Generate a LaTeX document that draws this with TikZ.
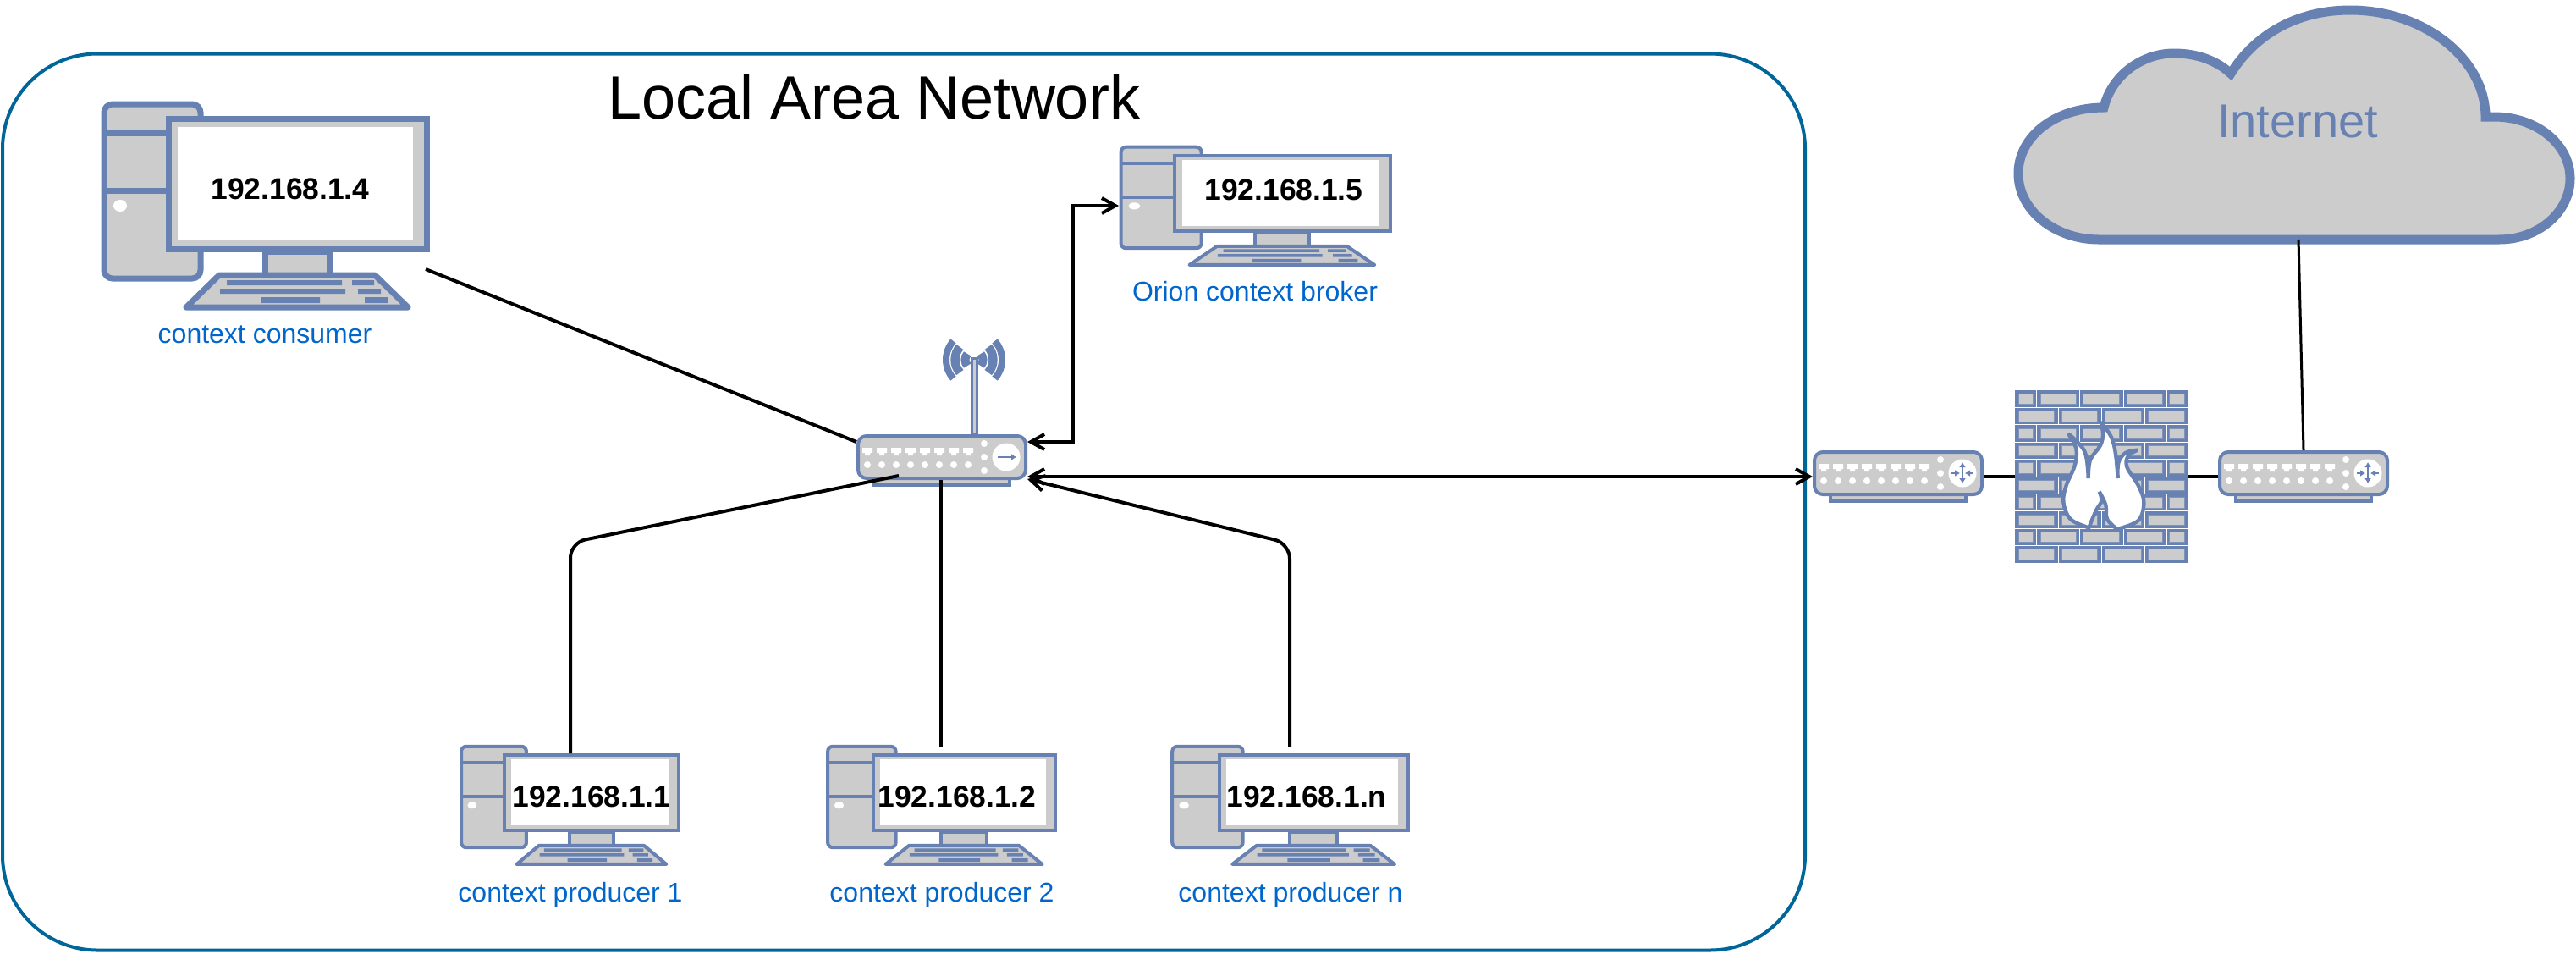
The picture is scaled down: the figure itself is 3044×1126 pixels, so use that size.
\documentclass[tikz,border=0pt]{standalone}
\usepackage{fontspec}
\setmainfont{Liberation Sans}
\usetikzlibrary{arrows.meta, positioning}
\definecolor{netblue}{HTML}{6881B3}
\definecolor{devgray}{HTML}{CCCCCC}
\definecolor{lanblue}{HTML}{006699}
\definecolor{labelblue}{HTML}{0066CC}

\tikzset{
    devshape/.style={draw=netblue, fill=devgray},
    pcbig/.style={line width=3.5pt, rounded corners=5pt},
    pcsmall/.style={yscale=.58, line width=2pt, rounded corners=3pt},
    routerbody/.style={devshape, rectangle, rounded corners=5pt, line width=2pt, minimum width=99pt, minimum height=25pt, anchor=north west, outer sep=1pt},
    symline/.style={draw=netblue, line width=1pt, -{Latex[length=3pt,width=4pt]}},
    pcicon/.pic={
        % tower
        \draw[devshape] (3,3) rectangle (117,209);
        \draw[draw=netblue, sharp corners] (3,37) -- (80,37) (3,105) -- (80,105);
        \fill[white] (22,123) ellipse (8 and 7);
        % monitor
        \draw[devshape, sharp corners] (79,20) rectangle (384,174);
        \fill[white, sharp corners] (90,30) rectangle (368,164);
        % stand and keyboard
        \draw[devshape, sharp corners] (193,177) rectangle (269,205);
        \draw[devshape, sharp corners, line join=round] (100,243) -- (139,205) -- (323,205) -- (362,243) -- cycle;
        \fill[netblue, sharp corners] (148,211) rectangle (284,217) (296,211) rectangle (322,217)
            (140,221) rectangle (288,227) (303,221) rectangle (330,227)
            (189,231) rectangle (258,238) (311,231) rectangle (338,238);
    },
    routericon/.pic={
        \draw[devshape, line width=2pt] (21,48) rectangle (181,60);
        \node[routerbody] (-body) at (0,0) {};
        % ports
        \foreach \i [evaluate=\i as \px using 13+17*\i] in {0,...,7} {
            \fill[white] (\px-6,16) rectangle (\px+6,22) (\px-3,22) rectangle (\px+3,25);
            \fill[white] (\px,36) circle (4);
        }
        \foreach \py in {11,27,43} {
            \fill[white] (151,\py) circle (4);
        }
        \fill[white] (177,27) circle (16.5);
        \coordinate (-hub) at (177,27);
    },
    brickwall/.pic={
        \foreach \r in {0,2,...,8} {
            \foreach \a/\b in {4/21.3,30.3/72.7,80.7/123,132.7/174.7,182.7/200.3} {
                \filldraw[draw=netblue!75!devgray, line width=.25pt, fill=devgray] (\a,4+20.4*\r) rectangle (\b,16.4+20.4*\r);
            }
            \foreach \a in {25.7,76.7,128,179} {
                \draw[white, line width=.5pt] (\a,20.4*\r) -- (\a,20.4+20.4*\r);
            }
        }
        \foreach \r in {1,3,...,9} {
            \foreach \a/\b in {4/46.3,55.3/97.7,106.3/149,157.7/200.3} {
                \filldraw[draw=netblue!75!devgray, line width=.25pt, fill=devgray] (\a,4+20.4*\r) rectangle (\b,16.4+20.4*\r);
            }
            \foreach \a in {51,102.3,153.3} {
                \draw[white, line width=.5pt] (\a,20.4*\r) -- (\a,20.4+20.4*\r);
            }
        }
        \foreach \r in {1,...,9} {
            \draw[white, line width=.5pt] (0,20.4*\r) -- (204,20.4*\r);
        }
    }
}

\begin{document}
\begin{tikzpicture}[
    x=0.5pt, y=-0.5pt,
    lanbox/.style={draw=lanblue, line width=2pt, rectangle, rounded corners=56pt, minimum width=1065pt, minimum height=529.5pt},
    firewallbox/.style={fill=netblue, rectangle, minimum width=102pt, minimum height=102pt, inner sep=0pt, outer sep=0pt},
    cloudshape/.style={draw=netblue, fill=devgray, line width=5.5pt},
    ipaddr/.style={anchor=base, font=\bfseries\fontsize{17.7}{20}\selectfont, inner sep=0pt},
    devlabel/.style={anchor=base, text=labelblue, font=\fontsize{16}{18}\selectfont, inner sep=0pt},
    linkline/.style={line width=2pt},
    linkarrow/.style={linkline, {Straight Barb[length=8pt,width=9pt]}-{Straight Barb[length=8pt,width=9pt]}},
    intoarrow/.style={linkline, -{Straight Barb[length=8pt,width=9pt]}}
]
\useasboundingbox (0,0) rectangle (3044,1126);

% local network
\node[lanbox] (lan) at (1068,593) {};
\node[anchor=base, font=\fontsize{36}{40}\selectfont, inner sep=0pt] (lantitle) at (1033,140) {Local Area Network};

% computers
\pic[pcbig] at (120,120) {pcicon};
\pic[pcsmall, xscale=.835] at (1322,172) {pcicon};
\pic[pcsmall, xscale=.675] at (543,880) {pcicon};
\pic[pcsmall, xscale=.706] at (976,880) {pcicon};
\pic[pcsmall, xscale=.732] at (1383,880) {pcicon};

\node[ipaddr] (consumerip) at (343,235) {192.168.1.4};
\node[ipaddr] (brokerip) at (1517,236) {192.168.1.5};
\node[ipaddr] (prodaip) at (699,953) {192.168.1.1};
\node[ipaddr] (prodbip) at (1131,953) {192.168.1.2};
\node[ipaddr] (prodnip) at (1544,953) {192.168.1.n};

\node[devlabel] (consumerlabel) at (313,405) {context consumer};
\node[devlabel] (brokerlabel) at (1483,355) {Orion context broker};
\node[devlabel] (prodalabel) at (674,1065) {context producer 1};
\node[devlabel] (prodblabel) at (1113,1065) {context producer 2};
\node[devlabel] (prodnlabel) at (1525,1065) {context producer n};

% wifi router
\pic (wifirouter) at (1012,513) {routericon};
\draw[devshape, line width=1.5pt, sharp corners] (1148,423) rectangle (1154,513);
\foreach \r/\w in {10.5/5pt, 22.5/5.2pt, 33/4pt} {
    \draw[netblue, line width=\w] (1151,425) ++(-42:\r) arc[start angle=-42, end angle=42, radius=\r];
    \draw[netblue, line width=\w] (1151,425) ++(138:\r) arc[start angle=138, end angle=222, radius=\r];
}
\draw[symline] ([xshift=-5pt]wifirouter-hub) -- ([xshift=6pt]wifirouter-hub);

% firewall and outer routers
\node[firewallbox] (firewall) at (2483,563) {};
\pic at (2381,461) {brickwall};
\begin{scope}[shift={(2370,450)}, scale=1/3]
\filldraw[draw=netblue, fill=white, line width=2.2pt, miter limit=3]
    plot[smooth, tension=.6] coordinates {(222,187) (280,250) (293,345)}
    -- plot[smooth, tension=.6] coordinates {(293,345) (300,280) (335,230) (345,190) (338,145)}
    -- plot[smooth, tension=.6] coordinates {(338,145) (375,200) (390,260) (398,345)}
    -- plot[smooth, tension=.6] coordinates {(398,345) (400,290) (425,255) (468,245)}
    -- plot[smooth, tension=.6] coordinates {(468,245) (435,265) (430,305) (470,370) (490,430) (470,495) (395,525)}
    -- plot[smooth, tension=.6] coordinates {(395,525) (360,490) (355,440) (332,392)}
    -- plot[smooth, tension=.6] coordinates {(332,392) (340,425) (320,460) (295,520)}
    -- plot[smooth, tension=.6] coordinates {(295,520) (230,490) (205,430) (215,370) (245,300) (250,240) (222,187)}
    -- cycle;
\end{scope}

\pic (lanrouter) at (2142,532) {routericon};
\pic (wanrouter) at (2621,532) {routericon};
\foreach \dev in {lanrouter,wanrouter} {
    \draw[symline, {Latex[length=3pt,width=4pt]}-{Latex[length=3pt,width=4pt]}] ([yshift=6.5pt]\dev-hub) -- ([yshift=-6pt]\dev-hub);
    \draw[symline] ([xshift=-6.5pt]\dev-hub) -- ([xshift=-1.5pt]\dev-hub);
    \draw[symline] ([xshift=6.5pt]\dev-hub) -- ([xshift=1.5pt]\dev-hub);
}

% cloud
\draw[cloudshape] (2480,283) .. controls (2430,283) and (2385,250) .. (2385,205)
    .. controls (2385,160) and (2430,127) .. (2486,127)
    .. controls (2495,90) and (2530,63) .. (2569,63)
    .. controls (2597,63) and (2620,72) .. (2636,87)
    .. controls (2665,40) and (2715,12) .. (2777,12)
    .. controls (2865,12) and (2937,70) .. (2937,138)
    -- (2947,138) .. controls (2997,138) and (3037,170) .. (3037,211)
    .. controls (3037,250) and (3000,283) .. (2953,283) -- cycle;
\node[anchor=base, text=netblue, font=\fontsize{28}{30}\selectfont, inner sep=0pt] (internet) at (2715,162) {Internet};

% loose ends of the links
\coordinate (consumerport) at (503,318);
\coordinate (brokerport) at (1322,243);
\coordinate (brokerjog) at (1268,243);
\coordinate (prodaport) at (674,890);
\coordinate (prodabend) at (674,641);
\coordinate (prodbport) at (1112,882);
\coordinate (prodnport) at (1524,882);
\coordinate (prodnbend) at (1524,642);
\coordinate (cloudport) at (2716,283);

% links
\draw[linkline] (consumerport) -- ([yshift=9pt]wifirouter-body.west);
\draw[linkarrow] (brokerport) -- (brokerjog) |- ([yshift=9pt]wifirouter-body.east);
\draw[linkarrow] ([yshift=-11.5pt]wifirouter-body.east) -- (lanrouter-body.west |- firewall.west);
\draw[linkline, rounded corners=9pt] (prodaport) -- (prodabend) -- (1062,562);
\draw[linkline] (prodbport) -- (wifirouter-body.south -| prodbport);
\draw[intoarrow, rounded corners=9pt] (prodnport) -- (prodnbend) -- ([yshift=-13pt]wifirouter-body.east);
\draw[linkline] (lanrouter-body.east |- firewall.west) -- (firewall.west);
\draw[linkline] (firewall.east) -- (wanrouter-body.west |- firewall.east);
\draw[linkline, line width=1.5pt] (cloudport) -- (wanrouter-body.north);

\end{tikzpicture}
\end{document}
